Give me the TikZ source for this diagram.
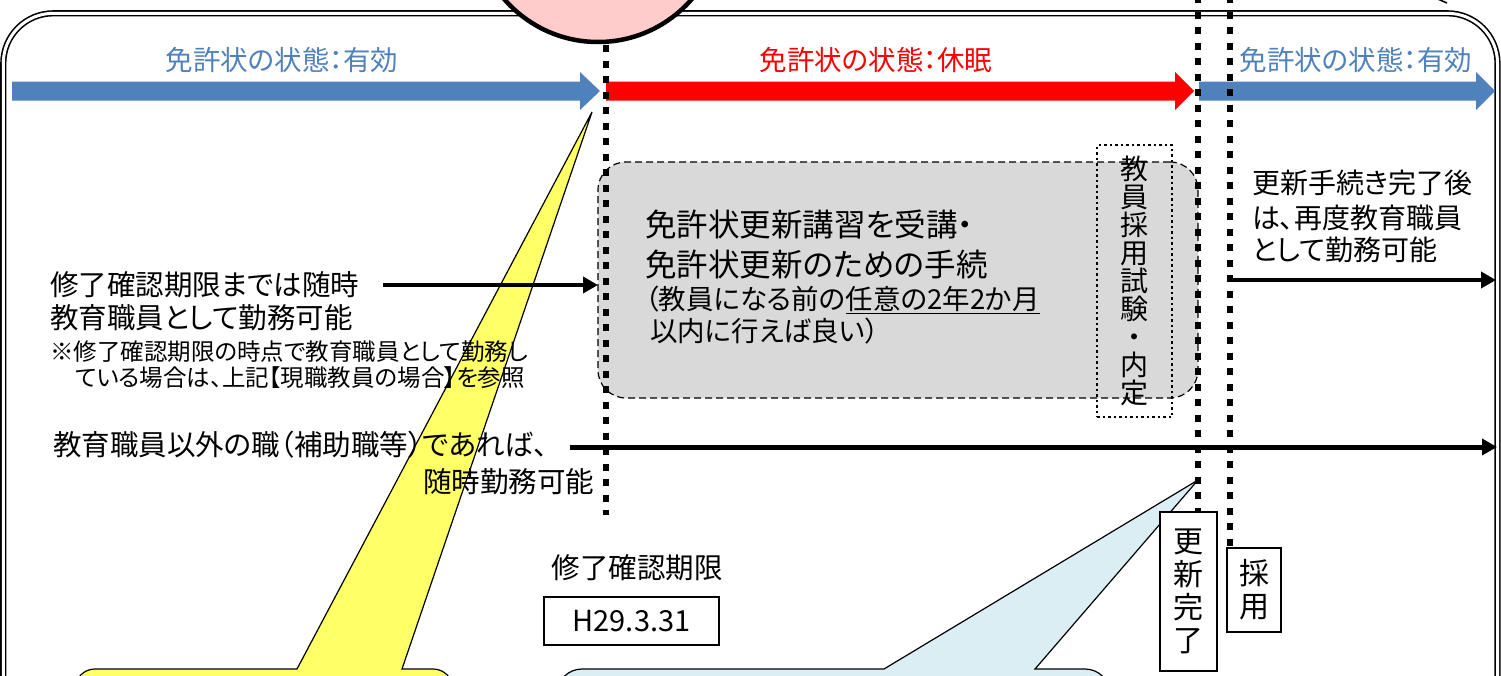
\documentclass[tikz,border=0pt]{standalone}
\usepackage{fontspec}
\newfontfamily\jp[RawFeature=+palt]{Noto Sans CJK JP}
\usetikzlibrary{arrows.meta}
\definecolor{bluec}{HTML}{4F81BD}
\definecolor{redc}{HTML}{FF0000}
\definecolor{pinkc}{HTML}{FFCCCC}
\definecolor{grayc}{HTML}{D9D9D9}
\definecolor{yelc}{HTML}{FFFF66}
\definecolor{lbluec}{HTML}{DAEEF3}
\begin{document}
\begin{tikzpicture}[x=1pt,y=-1pt,
  every node/.style={inner sep=0pt, outer sep=0pt},
  txt/.style={font={\jp\fontsize{#1}{#1}\selectfont}},
  barrow/.style={line width=4pt, -{Triangle[length=15pt,width=16pt]}},
  vdots/.style={line width=6.5pt, dash pattern=on 7pt off 8.5pt},
  vbox/.style={draw, line width=1.5pt, fill=white},
  callout/.style={draw, line width=1.2pt, line join=miter}
]
\useasboundingbox (0,0) rectangle (1501,675);
\begin{scope}
\clip (0,0) rectangle (1501,675);
% outer frame
\draw[line width=1.6pt, double=white, double distance=3pt, rounded corners=50pt] (3.3,13.3) rectangle (1497.5,760);
\draw[line width=1.5pt] (1433,-3) -- (1447,3);
% callouts
\draw[callout, fill=yelc] (75,720) -- (75,689) arc[start angle=180,end angle=270,radius=20] -- (297,669) -- (592,112) -- (402,669) -- (433,669) arc[start angle=270,end angle=360,radius=20] -- (453,720) -- cycle;
\draw[callout, fill=lbluec] (557,720) -- (557,694) arc[start angle=180,end angle=270,radius=25] -- (884,669) -- (1198,480) -- (1035,669) -- (1085,669) arc[start angle=270,end angle=360,radius=25] -- (1110,720) -- cycle;
% gray box
\node[draw, line width=1.2pt, dash pattern=on 7pt off 4pt, fill=grayc, rounded corners=28pt, minimum width=600pt, minimum height=236pt] (renew) at (898,280) {};
% block arrows
\fill[bluec] (12,81.5) -- (580,81.5) -- (580,72) -- (600,91) -- (580,110) -- (580,100.5) -- (12,100.5) -- cycle;
\fill[redc] (606,81.5) -- (1175,81.5) -- (1175,72) -- (1194,91) -- (1175,110) -- (1175,100.5) -- (606,100.5) -- cycle;
\fill[bluec] (1199,81.5) -- (1476,81.5) -- (1476,72) -- (1495,91) -- (1476,110) -- (1476,100.5) -- (1199,100.5) -- cycle;
% state labels
\node[txt=27.5, text=bluec] (st1) at (282,60) {免許状の状態：有効};
\node[txt=27.5, text=redc] (st2) at (876,60) {免許状の状態：休眠};
\node[txt=27.5, text=bluec] (st3) at (1356,60) {免許状の状態：有効};
% left texts
\node[txt=28.5, anchor=west] (l1) at (50,285) {修了確認期限までは随時};
\node[txt=28.5, anchor=west] (l2) at (50,318) {教育職員として勤務可能};
\node[txt=23.5, anchor=west] (l3) at (50,352) {※修了確認期限の時点で教育職員として勤務し};
\node[txt=23.5, anchor=west] (l4) at (75,378) {ている場合は、上記【現職教員の場合】を参照};
\node[txt=28.5, anchor=west] (l5) at (53,445) {教育職員以外の職（補助職等）であれば、};
\node[txt=28.5, anchor=east] (l6) at (594,482) {随時勤務可能};
\node[txt=28.5] (l7) at (637,568) {修了確認期限};
% gray box texts
\node[txt=31.5, anchor=west] (g1) at (645,225) {免許状更新講習を受講・};
\node[txt=31.5, anchor=west] (g2) at (645,265) {免許状更新のための手続};
\node[txt=27.5, anchor=west] (g3) at (645,300) {（教員になる前の\underline{任意の2年2か月}};
\node[txt=27.5, anchor=west] (g4) at (650,331) {以内に行えば良い）};
% right texts
\node[txt=28, anchor=west] (r1) at (1252,183) {更新手続き完了後};
\node[txt=28, anchor=west] (r2) at (1252,218) {は、再度教育職員};
\node[txt=28, anchor=west] (r3) at (1252,250) {として勤務可能};
% black arrows
\coordinate (a1) at (383,285);
\draw[barrow] (a1) -- (a1 -| renew.west);
\coordinate (a2s) at (570,447);
\coordinate (a2e) at (1497,447);
\draw[barrow, line width=5pt] (a2s) -- (a2e);
\coordinate (a3s) at (1232,280);
\coordinate (a3e) at (1496,280);
\draw[barrow] (a3s) -- (a3e);
% exam box
\node[draw, line width=2.5pt, dash pattern=on 2.5pt off 3pt, minimum width=75pt, minimum height=272pt, align=center, font={\jp\fontsize{28}{28}\selectfont}] (exam) at (1134.5,281) {教\\員\\採\\用\\試\\験\\・\\内\\定};
% boxes
\node[vbox, minimum width=57pt, minimum height=159pt, align=center, font={\jp\fontsize{30}{33}\selectfont}] (done) at (1188.5,591.5) {更\\新\\完\\了};
\node[vbox, minimum width=54pt, minimum height=84pt, align=center, font={\jp\fontsize{30}{33}\selectfont}] (adopt) at (1254,590) {採\\用};
\node[vbox, minimum width=175pt, minimum height=48pt, font={\jp\fontsize{29}{29}\selectfont}] (date) at (631.5,621) {H29.3.31};
% circle
\node[circle, draw, line width=4.5pt, fill=pinkc, minimum size=248pt] (clock) at (598,-82) {};
% dotted lines
\coordinate (l1b) at (606,515);
\draw[vdots] ([yshift=-3pt]l1b |- clock.south) -- (l1b);
\coordinate (l2t) at (1198,-4);
\draw[vdots] (l2t) -- (l2t |- done.north);
\coordinate (l3t) at (1230,-4);
\draw[vdots] (l3t) -- (l3t |- adopt.north);
\end{scope}
\end{tikzpicture}
\end{document}
